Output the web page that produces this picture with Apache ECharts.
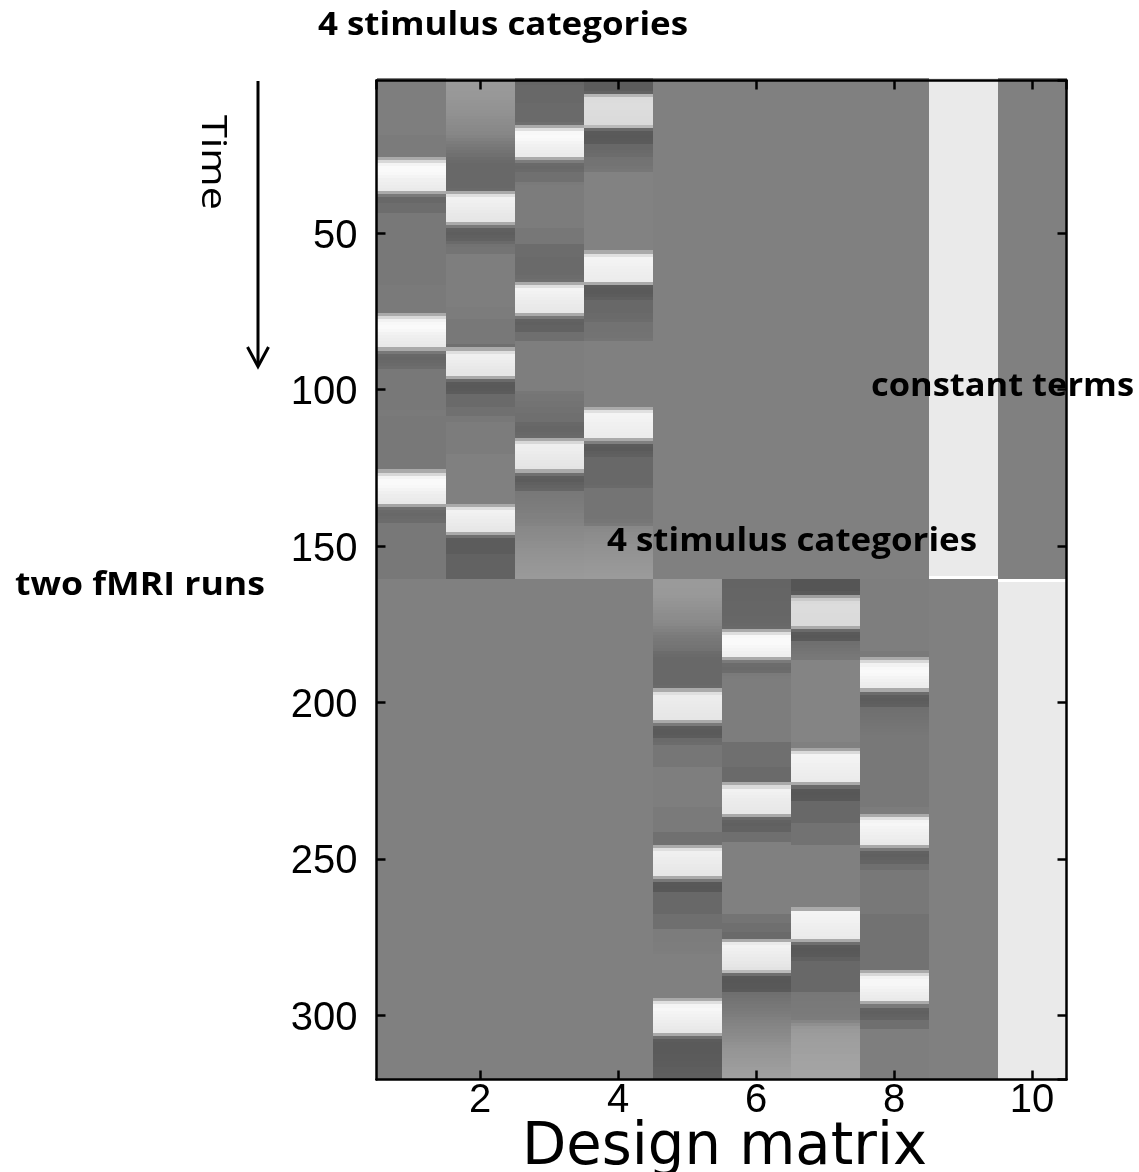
<!DOCTYPE html>
<html>
<head>
<meta charset="utf-8">
<script src="https://cdn.jsdelivr.net/npm/echarts@6/dist/echarts.min.js"></script>
<style>html,body{margin:0;padding:0;background:#fff;}#chart{width:1139px;height:1172px;}</style>
</head>
<body>
<div id="chart"></div>
<script>
// ---------- data (design-matrix units, 0 = baseline, 1 = constant) ----------
const xTickValues = [2, 4, 6, 8, 10];
const yTickValues = [50, 100, 150, 200, 250, 300];
const rowsPerRun = 160;
const offRunValue = 0;

// run 1 regressors (rows 1-160)
const stim1Run1 = [
-0.01,-0.01,-0.01,-0.01,-0.01,-0.01,-0.01,-0.01,-0.01,-0.01,
-0.01,-0.01,-0.01,-0.01,-0.01,-0.01,-0.01,-0.01,-0.04,-0.04,
-0.04,-0.04,-0.04,-0.04,-0.04,0.40,0.83,1.10,1.15,1.15,
1.13,1.10,1.06,1.04,1.02,1.00,0.40,-0.05,-0.22,-0.22,
-0.17,-0.17,-0.17,-0.07,-0.07,-0.07,-0.07,-0.07,-0.07,-0.07,
-0.07,-0.07,-0.07,-0.07,-0.07,-0.07,-0.07,-0.07,-0.07,-0.07,
-0.07,-0.07,-0.07,-0.07,-0.07,-0.07,-0.05,-0.05,-0.05,-0.05,
-0.05,-0.05,-0.05,-0.05,-0.05,0.40,0.83,1.08,1.13,1.15,
1.12,1.08,1.05,1.03,1.01,0.99,0.40,-0.07,-0.22,-0.24,
-0.22,-0.20,-0.17,-0.07,-0.07,-0.07,-0.07,-0.07,-0.07,-0.07,
-0.07,-0.07,-0.07,-0.07,-0.07,-0.07,-0.05,-0.05,-0.07,-0.07,
-0.07,-0.07,-0.07,-0.07,-0.07,-0.07,-0.07,-0.07,-0.07,-0.07,
-0.07,-0.07,-0.07,-0.07,-0.07,0.40,0.83,1.10,1.15,1.15,
1.13,1.10,1.06,1.03,1.01,0.99,0.35,-0.15,-0.20,-0.22,
-0.20,-0.18,-0.07,-0.07,-0.07,-0.07,-0.07,-0.07,-0.07,-0.07,
-0.07,-0.07,-0.07,-0.07,-0.07,-0.07,-0.07,-0.07,-0.07,-0.07
];
const stim2Run1 = [
0.25,0.25,0.24,0.24,0.23,0.23,0.22,0.20,0.19,0.18,
0.17,0.16,0.15,0.13,0.12,0.10,0.09,0.07,0.04,0.00,
-0.03,-0.06,-0.09,-0.12,-0.15,-0.18,-0.20,-0.22,-0.22,-0.22,
-0.22,-0.22,-0.22,-0.22,-0.22,-0.20,0.40,0.90,1.08,1.06,
1.04,1.02,1.00,0.98,0.97,0.96,0.40,-0.05,-0.30,-0.32,
-0.30,-0.28,-0.20,-0.13,-0.11,-0.11,-0.01,-0.01,-0.01,-0.01,
-0.01,-0.01,-0.01,-0.01,-0.01,-0.01,-0.01,-0.01,-0.01,-0.01,
-0.01,-0.01,-0.01,-0.03,-0.03,-0.03,-0.03,-0.07,-0.07,-0.07,
-0.07,-0.07,-0.07,-0.07,-0.07,-0.16,0.40,0.90,1.06,1.05,
1.03,1.01,0.99,0.97,0.96,0.40,-0.20,-0.35,-0.36,-0.35,
-0.33,-0.20,-0.20,-0.20,-0.20,-0.15,-0.15,-0.15,-0.07,-0.07,
-0.03,-0.03,-0.03,-0.03,-0.03,-0.03,-0.03,-0.03,-0.03,-0.03,
0.00,0.00,0.00,0.00,0.00,0.00,0.00,0.00,0.00,0.00,
0.00,0.00,0.00,0.00,0.00,0.00,0.40,0.90,1.08,1.06,
1.04,1.02,1.00,0.98,0.97,0.40,-0.15,-0.33,-0.33,-0.33,
-0.33,-0.33,-0.28,-0.28,-0.28,-0.28,-0.28,-0.28,-0.28,-0.28
];
const stim3Run1 = [
-0.24,-0.24,-0.22,-0.22,-0.22,-0.22,-0.22,-0.22,-0.20,-0.20,
-0.20,-0.20,-0.20,-0.20,-0.16,0.40,0.90,1.13,1.15,1.13,
1.10,1.07,1.05,1.03,1.01,0.40,-0.03,-0.20,-0.22,-0.20,
-0.15,-0.15,-0.15,-0.05,-0.03,-0.03,-0.03,-0.03,-0.03,-0.03,
-0.03,-0.03,-0.03,-0.03,-0.03,-0.03,-0.03,-0.03,-0.08,-0.08,
-0.08,-0.08,-0.08,-0.18,-0.18,-0.18,-0.18,-0.20,-0.20,-0.20,
-0.20,-0.20,-0.20,-0.18,-0.16,0.40,0.90,1.10,1.08,1.06,
1.04,1.02,1.00,0.99,0.98,0.40,-0.07,-0.28,-0.30,-0.28,
-0.28,-0.16,-0.16,-0.16,-0.01,-0.01,-0.01,-0.01,-0.01,-0.01,
-0.01,-0.01,-0.01,-0.01,-0.01,-0.01,-0.01,-0.01,-0.01,-0.01,
-0.08,-0.10,-0.10,-0.12,-0.12,-0.14,-0.14,-0.16,-0.16,-0.16,
-0.22,-0.24,-0.24,-0.22,-0.20,0.40,0.83,1.05,1.04,1.02,
1.00,0.99,0.97,0.96,0.95,0.40,-0.15,-0.32,-0.33,-0.30,
-0.27,-0.24,-0.07,-0.06,-0.05,-0.04,-0.03,-0.02,-0.01,0.00,
0.00,0.02,0.04,0.08,0.09,0.10,0.11,0.12,0.14,0.15,
0.16,0.17,0.18,0.19,0.20,0.21,0.22,0.23,0.24,0.25
];
const stim4Run1 = [
-0.33,-0.33,-0.33,-0.33,-0.28,0.50,0.85,0.87,0.88,0.88,
0.87,0.87,0.86,0.86,0.85,0.55,-0.20,-0.35,-0.36,-0.35,
-0.34,-0.22,-0.22,-0.20,-0.18,-0.13,-0.12,-0.12,-0.10,-0.08,
0.02,0.02,0.02,0.02,0.02,0.02,0.02,0.02,0.02,0.02,
0.02,0.02,0.02,0.02,0.02,0.02,0.02,0.02,0.02,0.02,
0.02,0.02,0.02,0.02,0.02,0.40,0.91,1.10,1.09,1.08,
1.06,1.05,1.04,1.03,1.02,0.40,-0.33,-0.35,-0.35,-0.33,
-0.30,-0.22,-0.22,-0.22,-0.22,-0.20,-0.20,-0.18,-0.13,-0.13,
-0.13,-0.12,-0.12,-0.10,0.00,0.00,0.00,0.00,0.00,0.00,
0.00,0.00,0.00,0.00,0.00,0.00,0.00,0.00,0.00,0.00,
0.00,0.00,0.00,0.00,0.00,0.40,0.91,1.10,1.09,1.08,
1.06,1.05,1.04,1.03,1.02,0.40,0.00,-0.33,-0.35,-0.32,
-0.30,-0.22,-0.22,-0.22,-0.22,-0.22,-0.22,-0.22,-0.22,-0.22,
-0.20,-0.11,-0.11,-0.11,-0.11,-0.11,-0.11,-0.11,-0.11,-0.11,
-0.11,-0.09,-0.05,0.08,0.10,0.12,0.13,0.14,0.15,0.16,
0.17,0.18,0.19,0.20,0.21,0.22,0.23,0.24,0.25,0.26
];
// run 2 regressors (rows 161-320)
const stim1Run2 = [
0.25,0.25,0.25,0.24,0.24,0.23,0.21,0.19,0.18,0.16,
0.15,0.13,0.12,0.10,0.08,0.04,0.01,-0.02,-0.05,-0.07,
-0.09,-0.11,-0.13,-0.18,-0.20,-0.22,-0.22,-0.22,-0.22,-0.22,
-0.22,-0.22,-0.22,-0.22,-0.20,0.40,0.90,1.02,1.02,1.01,
1.00,0.99,0.98,0.97,0.96,0.40,-0.05,-0.33,-0.35,-0.35,
-0.33,-0.20,-0.18,-0.09,-0.09,-0.09,-0.09,-0.09,-0.09,-0.09,
-0.01,-0.01,-0.01,-0.01,-0.01,-0.01,-0.01,-0.01,-0.01,-0.01,
-0.01,-0.01,-0.01,-0.05,-0.05,-0.05,-0.05,-0.05,-0.05,-0.05,
-0.05,-0.15,-0.15,-0.15,-0.15,0.40,0.90,1.06,1.05,1.03,
1.02,1.00,0.99,0.98,0.97,0.40,-0.07,-0.37,-0.38,-0.37,
-0.22,-0.22,-0.22,-0.22,-0.22,-0.22,-0.22,-0.16,-0.16,-0.16,
-0.16,-0.16,-0.03,-0.03,-0.03,-0.03,-0.02,-0.02,-0.02,-0.01,
0.00,0.00,0.00,0.00,0.00,0.00,0.00,0.00,0.00,0.00,
0.00,0.00,0.00,0.00,0.40,0.90,1.10,1.12,1.10,1.08,
1.06,1.04,1.02,1.00,0.98,0.40,-0.16,-0.33,-0.35,-0.35,
-0.35,-0.35,-0.34,-0.34,-0.33,-0.33,-0.32,-0.32,-0.31,-0.31
];
const stim2Run2 = [
-0.26,-0.26,-0.26,-0.25,-0.25,-0.25,-0.25,-0.24,-0.24,-0.24,
-0.24,-0.24,-0.23,-0.23,-0.22,-0.20,0.40,0.90,1.13,1.15,
1.15,1.12,1.10,1.07,1.05,0.40,-0.05,-0.18,-0.20,-0.18,
-0.05,-0.03,-0.02,-0.02,-0.02,-0.02,-0.02,-0.02,-0.02,-0.02,
-0.02,-0.02,-0.02,-0.02,-0.02,-0.02,-0.02,-0.02,-0.02,-0.02,
-0.02,-0.02,-0.16,-0.16,-0.16,-0.16,-0.16,-0.16,-0.16,-0.16,
-0.20,-0.20,-0.20,-0.20,-0.20,0.40,0.85,1.08,1.06,1.04,
1.02,1.01,1.00,0.99,0.98,0.40,-0.20,-0.28,-0.30,-0.28,
-0.28,-0.16,-0.16,-0.16,0.00,0.00,0.00,0.00,0.00,0.00,
0.00,0.00,0.00,0.00,0.00,0.00,0.00,0.00,0.00,0.00,
0.00,0.00,0.00,0.00,0.00,0.00,0.00,-0.11,-0.11,-0.11,
-0.16,-0.16,-0.16,-0.20,-0.20,0.40,1.00,1.08,1.06,1.04,
1.02,1.00,0.98,0.96,0.94,0.55,-0.16,-0.37,-0.38,-0.37,
-0.37,-0.35,-0.16,-0.14,-0.12,-0.10,-0.08,-0.06,-0.04,-0.02,
0.00,0.02,0.04,0.06,0.08,0.10,0.12,0.14,0.16,0.18,
0.20,0.21,0.22,0.24,0.25,0.26,0.28,0.29,0.30,0.31
];
const stim3Run2 = [
-0.40,-0.40,-0.40,-0.40,-0.35,0.30,0.70,0.85,0.87,0.87,
0.87,0.86,0.86,0.85,0.85,0.40,-0.20,-0.35,-0.37,-0.35,
-0.16,-0.14,-0.12,-0.10,-0.08,-0.07,0.04,0.04,0.04,0.04,
0.04,0.04,0.04,0.04,0.04,0.04,0.04,0.04,0.04,0.04,
0.04,0.04,0.04,0.04,0.04,0.04,0.04,0.04,0.04,0.04,
0.04,0.04,0.00,0.00,0.35,0.85,1.10,1.09,1.08,1.06,
1.05,1.04,1.03,1.02,1.01,0.40,-0.20,-0.37,-0.38,-0.37,
-0.36,-0.22,-0.22,-0.22,-0.22,-0.22,-0.22,-0.22,-0.13,-0.13,
-0.13,-0.13,-0.13,-0.13,-0.13,0.00,0.00,0.00,0.00,0.00,
0.00,0.00,0.00,0.00,0.00,0.00,0.00,0.00,0.00,0.00,
0.00,0.00,0.00,0.00,0.00,0.40,1.10,1.09,1.08,1.07,
1.05,1.04,1.03,1.02,1.00,0.40,-0.16,-0.35,-0.37,-0.36,
-0.35,-0.30,-0.22,-0.22,-0.22,-0.22,-0.22,-0.22,-0.22,-0.22,
-0.22,-0.22,-0.08,-0.07,-0.07,-0.06,-0.06,-0.05,-0.05,-0.04,
-0.03,0.05,0.15,0.22,0.25,0.27,0.28,0.29,0.30,0.30,
0.31,0.31,0.32,0.32,0.33,0.33,0.33,0.34,0.34,0.34
];
const stim4Run2 = [
-0.01,-0.01,-0.01,-0.01,-0.01,-0.01,-0.01,-0.01,-0.01,-0.01,
-0.01,-0.01,-0.01,-0.01,-0.01,-0.01,-0.01,-0.01,-0.01,-0.01,
-0.01,-0.01,-0.01,-0.05,-0.05,0.40,0.83,1.08,1.13,1.15,
1.13,1.10,1.07,1.04,1.02,0.40,-0.18,-0.32,-0.33,-0.32,
-0.30,-0.16,-0.15,-0.14,-0.13,-0.12,-0.11,-0.10,-0.09,-0.08,
-0.07,-0.07,-0.07,-0.07,-0.07,-0.07,-0.07,-0.07,-0.07,-0.07,
-0.07,-0.07,-0.07,-0.07,-0.07,-0.07,-0.07,-0.07,-0.07,-0.07,
-0.07,-0.07,-0.07,-0.03,-0.03,0.40,0.91,1.10,1.12,1.10,
1.08,1.06,1.04,1.02,1.00,0.40,-0.05,-0.28,-0.30,-0.28,
-0.26,-0.16,-0.16,-0.07,-0.07,-0.07,-0.07,-0.07,-0.07,-0.07,
-0.07,-0.07,-0.07,-0.07,-0.07,-0.07,-0.07,-0.13,-0.13,-0.13,
-0.13,-0.13,-0.13,-0.13,-0.13,-0.13,-0.13,-0.13,-0.13,-0.13,
-0.13,-0.13,-0.13,-0.13,-0.13,0.40,0.83,1.08,1.12,1.12,
1.10,1.07,1.04,1.02,1.00,0.40,-0.05,-0.28,-0.30,-0.28,
-0.26,-0.16,-0.16,-0.16,-0.01,-0.01,-0.01,-0.01,-0.01,-0.01,
-0.01,-0.01,-0.01,-0.01,-0.01,-0.01,-0.01,-0.01,-0.01,-0.01
];
// constant terms (column 9 for run 1, column 10 for run 2)
const constantRun1 = [
1,1,1,1,1,1,1,1,1,1, 1,1,1,1,1,1,1,1,1,1, 1,1,1,1,1,1,1,1,1,1, 1,1,1,1,1,1,1,1,1,1,
1,1,1,1,1,1,1,1,1,1, 1,1,1,1,1,1,1,1,1,1, 1,1,1,1,1,1,1,1,1,1, 1,1,1,1,1,1,1,1,1,1,
1,1,1,1,1,1,1,1,1,1, 1,1,1,1,1,1,1,1,1,1, 1,1,1,1,1,1,1,1,1,1, 1,1,1,1,1,1,1,1,1,1,
1,1,1,1,1,1,1,1,1,1, 1,1,1,1,1,1,1,1,1,1, 1,1,1,1,1,1,1,1,1,1, 1,1,1,1,1,1,1,1,1,1.2
];
const constantRun2 = [
1.2,1,1,1,1,1,1,1,1,1, 1,1,1,1,1,1,1,1,1,1, 1,1,1,1,1,1,1,1,1,1, 1,1,1,1,1,1,1,1,1,1,
1,1,1,1,1,1,1,1,1,1, 1,1,1,1,1,1,1,1,1,1, 1,1,1,1,1,1,1,1,1,1, 1,1,1,1,1,1,1,1,1,1,
1,1,1,1,1,1,1,1,1,1, 1,1,1,1,1,1,1,1,1,1, 1,1,1,1,1,1,1,1,1,1, 1,1,1,1,1,1,1,1,1,1,
1,1,1,1,1,1,1,1,1,1, 1,1,1,1,1,1,1,1,1,1, 1,1,1,1,1,1,1,1,1,1, 1,1,1,1,1,1,1,1,1,1
];

// ---------- build cells ----------
const columnDefs = [
  [1, 1, stim1Run1], [2, 1, stim2Run1], [3, 1, stim3Run1], [4, 1, stim4Run1],
  [5, 2, stim1Run2], [6, 2, stim2Run2], [7, 2, stim3Run2], [8, 2, stim4Run2],
  [9, 1, constantRun1], [10, 2, constantRun2]
];
const cells = [];
columnDefs.forEach(([col, run, values]) => {
  for (let r = 1; r <= 2 * rowsPerRun; r++) {
    const runOfRow = r <= rowsPerRun ? 1 : 2;
    const v = runOfRow === run ? values[(r - 1) % rowsPerRun] : offRunValue;
    cells.push([col, r, v]);
  }
});

// ---------- text fitting helpers ----------
const mctx = document.createElement('canvas').getContext('2d');
function fit(text, font, target) { mctx.font = font; return target / mctx.measureText(text).width; }

const boldFont = 'bold 33px "Open Sans"';
const timeFont = '35px "Open Sans"';
const xNameFont = '58px "DejaVu Sans"';

function label(text, x, y, font, target, extra) {
  return Object.assign({
    type: 'text', x: x, y: y, scaleX: fit(text, font, target), z: 100,
    style: { text: text, font: font, fill: '#000', textAlign: 'center', align: 'center',
             textVerticalAlign: 'middle', verticalAlign: 'middle' }
  }, extra || {});
}

const chart = echarts.init(document.getElementById('chart'), null, { renderer: 'canvas' });

const axisCommonX = {
  type: 'value', min: 0.5, max: 10.5, splitNumber: 5, minInterval: 2, maxInterval: 2, z: 10,
  axisLine: { show: true, onZero: false, lineStyle: { color: '#000', width: 2.5 } },
  axisTick: { show: true, inside: true, length: 9, lineStyle: { color: '#000', width: 2.5 } },
  splitLine: { show: false }
};
const axisCommonY = {
  type: 'value', min: 1.2, max: 320.5, inverse: true, splitNumber: 6, minInterval: 50, maxInterval: 50, z: 10,
  axisLine: { show: true, onZero: false, lineStyle: { color: '#000', width: 2.5 } },
  axisTick: { show: true, inside: true, length: 9, lineStyle: { color: '#000', width: 2.5 } },
  splitLine: { show: false }
};

const option = {
  backgroundColor: '#fff',
  animation: false,
  grid: { left: 376.5, top: 80.5, width: 690, height: 999, containLabel: false },
  xAxis: [
    Object.assign({}, axisCommonX, { position: 'bottom',
      axisLabel: { show: true, showMinLabel: false, showMaxLabel: false, margin: 1, color: '#000',
        fontFamily: 'Liberation Sans', fontSize: 40,
        formatter: v => (xTickValues.indexOf(v) >= 0 ? String(v) : '') } }),
    Object.assign({}, axisCommonX, { position: 'top', axisLabel: { show: false } })
  ],
  yAxis: [
    Object.assign({}, axisCommonY, { position: 'left',
      axisLabel: { show: true, showMinLabel: false, showMaxLabel: false, margin: 19, color: '#000',
        fontFamily: 'Liberation Sans', fontSize: 40, verticalAlign: 'top', lineHeight: 7,
        formatter: v => (yTickValues.indexOf(v) >= 0 ? String(v) : '') } }),
    Object.assign({}, axisCommonY, { position: 'right', axisLabel: { show: false } })
  ],
  visualMap: {
    type: 'continuous', show: false, min: -1.2, max: 1.2, dimension: 2, seriesIndex: 0,
    inRange: { color: ['#000000', '#ffffff'] }
  },
  series: [{
    type: 'custom',
    coordinateSystem: 'cartesian2d',
    xAxisIndex: 0, yAxisIndex: 0,
    clip: true,
    z: 1,
    encode: { x: 0, y: 1 },
    data: cells,
    renderItem: function (params, api) {
      const c = api.value(0), r = api.value(1);
      const p0 = api.coord([c - 0.5, r - 0.5]);
      const p1 = api.coord([c + 0.5, r + 0.5]);
      const x0 = Math.round(Math.min(p0[0], p1[0])), x1 = Math.round(Math.max(p0[0], p1[0]));
      const y0 = Math.round(Math.min(p0[1], p1[1])), y1 = Math.round(Math.max(p0[1], p1[1]));
      return { type: 'rect', shape: { x: x0, y: y0, width: x1 - x0, height: y1 - y0 },
               style: { fill: api.visual('color') } };
    }
  }],
  graphic: [
    label('4 stimulus categories', 503, 26, boldFont, 370),
    label('constant terms', 1002.5, 387, boldFont, 263),
    label('4 stimulus categories', 792, 542, boldFont, 370),
    label('two fMRI runs', 140, 586, boldFont, 250),
    label('Time', 211.5, 162.5, timeFont, 95, { rotation: -Math.PI / 2 }),
    label('Design matrix', 724.5, 1149, xNameFont, 405),
    { type: 'line', z: 100, shape: { x1: 258, y1: 81, x2: 258, y2: 365 },
      style: { stroke: '#000', lineWidth: 3 } },
    { type: 'polyline', z: 100, shape: { points: [[247.5, 347], [258, 366.5], [268.5, 347]] },
      style: { stroke: '#000', lineWidth: 3, fill: null } }
  ]
};
chart.setOption(option);
</script>
</body>
</html>
